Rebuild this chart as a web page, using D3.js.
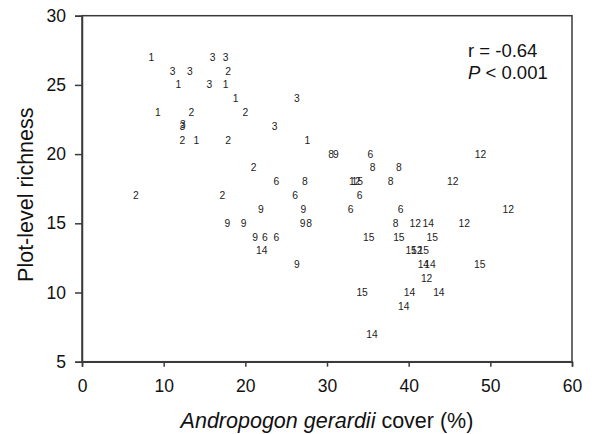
<!DOCTYPE html>
<html><head><meta charset="utf-8">
<script src="https://cdn.jsdelivr.net/npm/d3@7"></script>
<style>
html,body{margin:0;padding:0;background:#fff;}
svg{display:block;font-family:"Liberation Sans",Arial,sans-serif;}
</style></head>
<body><svg id="c" width="596" height="434"></svg>
<script>
// point labels (plot id), x = Andropogon gerardii cover (%), y = plot-level richness
const labels = ["1","3","3","3","3","2","1","3","1","1","3","1","2","2","3","3","3","2","1","2","1",
  "8","9","6","12","2","8","8","6","8","12","15","8","12","2","2","6","6",
  "9","9","6","6","12","9","9","9","8","8","12","14","12",
  "9","6","6","15","15","15","14","15","12","15","9","14","14","15","12","15","14","14","14","14"];
const cover = [8.5,16.0,17.6,11.1,13.2,17.9,11.8,15.6,17.6,18.8,26.3,9.3,13.4,20.0,12.3,12.35,23.6,12.3,14.0,17.9,27.6,
  30.5,31.1,35.3,48.8,21.0,35.6,38.8,23.8,27.3,33.4,33.7,37.8,45.4,6.6,17.2,26.1,34.0,
  21.9,27.1,32.9,39.0,52.2,17.8,19.8,27.0,27.8,38.4,40.8,42.4,46.8,
  21.2,22.4,23.8,35.1,38.8,42.9,22.0,40.3,41.0,41.8,26.3,41.8,42.6,48.7,42.2,34.3,40.1,43.7,39.4,35.5];
const richness = [27,27,27,26,26,26,25,25,25,24,24,23,23,23,22,22.12,22,21,21,21,21,
  20,20,20,20,19,19,19,18,18,18,18,18,18,17,17,17,17,
  16,16,16,16,16,15,15,15,15,15,15,15,15,
  14,14,14,14,14,14,13,13,13,13,12,12,12,12,11,10,10,10,9,7];
const xTicks = [0,10,20,30,40,50,60];
const yTicks = [5,10,15,20,25,30];

const svg = d3.select("#c");
const m = {l:82, r:572, t:15.7, b:361.7};
const x = d3.scaleLinear().domain([0,60]).range([m.l,m.r]);
const y = d3.scaleLinear().domain([5,30]).range([m.b,m.t]);
const axisCol = "#3a3a3a";

// frame
svg.append("rect").attr("x",m.l).attr("y",m.t).attr("width",m.r-m.l).attr("height",m.b-m.t)
  .attr("fill","none").attr("stroke",axisCol).attr("stroke-width",1.5);

const xa = svg.append("g").attr("transform",`translate(0,${m.b})`)
  .call(d3.axisBottom(x).tickValues(xTicks).tickSize(5).tickPadding(13).tickFormat(d3.format("d")));
const ya = svg.append("g").attr("transform",`translate(${m.l},0)`)
  .call(d3.axisLeft(y).tickValues(yTicks).tickSize(7).tickPadding(9).tickFormat(d3.format("d")));
[xa,ya].forEach(a=>{
  a.selectAll("path").attr("stroke",axisCol).attr("stroke-width",1.5);
  a.selectAll("line").attr("stroke",axisCol).attr("stroke-width",1.5);
  a.selectAll("text").attr("fill","#111").style("font-size","17.5px").style("font-family","Liberation Sans, Arial, sans-serif");
});

// point labels
svg.append("g").selectAll("text").data(labels).join("text")
  .attr("x",(d,i)=>x(cover[i])).attr("y",(d,i)=>y(richness[i]))
  .attr("text-anchor","middle").attr("dominant-baseline","central")
  .attr("fill","#222").style("font-size","10.3px").text(d=>d);

// stats
svg.append("text").attr("x",468).attr("y",57).attr("fill","#111").style("font-size","18.5px").text("r = -0.64");
const p = svg.append("text").attr("x",468).attr("y",79).attr("fill","#111").style("font-size","18.5px");
p.append("tspan").attr("font-style","italic").text("P");
p.append("tspan").text(" < 0.001");

// axis titles
svg.append("text").attr("transform",`translate(33,${(m.t+m.b)/2 + 6}) rotate(-90)`)
  .attr("text-anchor","middle").attr("fill","#111").style("font-size","21.5px").text("Plot-level richness");
const xt = svg.append("text").attr("x",(m.l+m.r)/2).attr("y",428).attr("text-anchor","middle")
  .attr("fill","#111").style("font-size","21.5px");
xt.append("tspan").attr("font-style","italic").text("Andropogon gerardii");
xt.append("tspan").text(" cover (%)");
</script></body></html>
